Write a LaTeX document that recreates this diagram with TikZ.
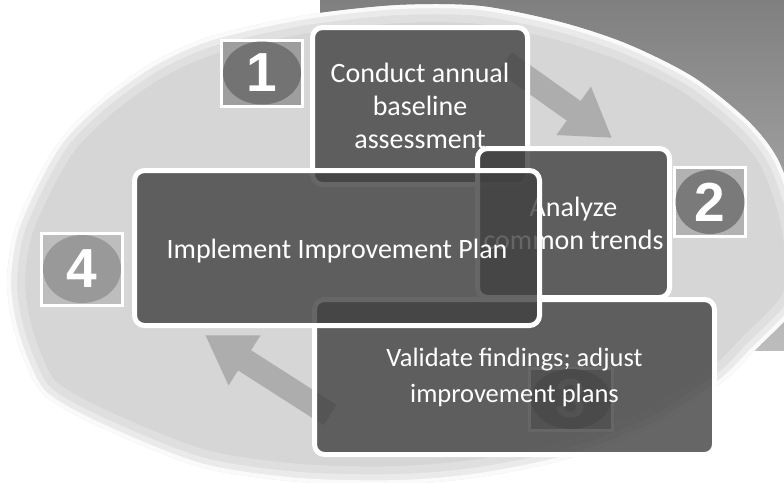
\documentclass[tikz,border=0pt]{standalone}
\usepackage{fontspec}
\setmainfont{Carlito}
\newfontfamily\numfont{Liberation Sans}
\usetikzlibrary{arrows.meta,shapes.geometric}
\definecolor{bgdark}{gray}{0.5}
\definecolor{bglow}{gray}{0.74}
\definecolor{ellfill}{gray}{0.84}
\definecolor{boxfill}{gray}{0.25}
\definecolor{arrowgray}{gray}{0.68}
\definecolor{sqA}{gray}{0.62}
\definecolor{discA}{gray}{0.45}
\definecolor{sqB}{gray}{0.70}
\definecolor{discB}{gray}{0.48}
\definecolor{sqC}{gray}{0.74}
\definecolor{discC}{gray}{0.60}
\definecolor{faintdigit}{gray}{0.62}
\newcommand\ellpath{plot[smooth cycle] coordinates {(7,280) (14,232) (33,187) (60,140) (100,100) (150,64) (200,40) (260,24) (320,13) (400,5) (480,6) (560,22) (627,44) (693,77) (747,120) (777,158) (796,210) (803,255) (801,295) (789,316) (755,350) (720,384) (650,428) (567,459) (480,477) (400,484) (300,482) (200,467) (100,427) (45,396) (25,362) (12,322)}}
\tikzset{
  stepbox/.style={rectangle, rounded corners=10pt, draw=white, line width=5pt,
    fill=boxfill, fill opacity=0.8, draw opacity=1, text opacity=1, text=white,
    align=center, inner sep=0pt, font=\fontsize{28}{33}\selectfont},
  badgesq/.style={rectangle, draw=white, line width=3pt, inner sep=0pt},
  badgedisc/.style={ellipse, inner sep=0pt, text=white,
    font=\numfont\bfseries\fontsize{55}{55}\selectfont},
  bigarrow/.style={draw=arrowgray, line width=24pt,
    -{Triangle[length=47pt, width=56pt, fill=arrowgray]}},
}
\begin{document}
\begin{tikzpicture}[x=1pt, y=-1pt]
\useasboundingbox (0,0) rectangle (784,482);
\fill[white] (0,0) rectangle (784,482);
% dark backdrop
\shade[top color=bgdark, bottom color=bglow] (320,0) rectangle (784,350);
% ellipse
\fill[ellfill] \ellpath;
\begin{scope}
  \clip \ellpath;
  \draw[white, line width=36pt, opacity=0.22] \ellpath;
  \draw[white, line width=20pt, opacity=0.35] \ellpath;
  \draw[white, line width=8pt, opacity=0.8] \ellpath;
\end{scope}
% arrows
\coordinate (a1s) at (505,62);
\coordinate (a1e) at (612,138);
\coordinate (a2s) at (330,415);
\coordinate (a2e) at (205,335);
\draw[bigarrow] (a1s) -- (a1e);
\draw[bigarrow] (a2s) -- (a2e);
% badges
\node[badgesq, fill=sqA, minimum width=81pt, minimum height=66pt] (n1) at (262,73) {};
\node[badgedisc, fill=discA, minimum width=78pt, minimum height=63pt] (d1) at (n1) {1};
\node[badgesq, fill=sqB, minimum width=71pt, minimum height=69pt] (n2) at (710,202) {};
\node[badgedisc, fill=discB, minimum width=69pt, minimum height=64pt] (d2) at (n2) {2};
\node[badgesq, fill=sqC, minimum width=81pt, minimum height=72pt] (n4) at (82,269) {};
\node[badgedisc, fill=discC, minimum width=78pt, minimum height=68pt] (d4) at (n4) {4};
\node[badgesq, fill=sqA, minimum width=83pt, minimum height=62pt] (n3) at (571,399) {};
\node[badgedisc, fill=discA, text=faintdigit, minimum width=80pt, minimum height=60pt] (d3) at (n3) {3};
% boxes
\node[stepbox, minimum width=215pt, minimum height=157pt] (b1) at (420,106)
  {Conduct annual\\baseline\\assessment};
\node[stepbox, minimum width=192pt, minimum height=149pt] (b2) at (573.5,223)
  {Analyze\\common trends};
\node[stepbox, minimum width=400pt, minimum height=155pt, font=\fontsize{26.5}{36}\selectfont] (b3) at (514.5,377)
  {Validate findings; adjust\\improvement plans};
\node[stepbox, minimum width=405pt, minimum height=155pt, text height=27pt, text depth=5.5pt] (b4) at (337,248)
  {Implement Improvement Plan};
\end{tikzpicture}
\end{document}
